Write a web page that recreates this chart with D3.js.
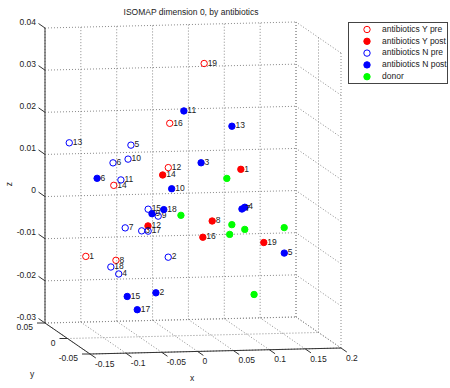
<!DOCTYPE html>
<html>
<head>
<meta charset="utf-8">
<script src="https://cdn.jsdelivr.net/npm/d3@7"></script>
<style>
body { margin: 0; background: #fff; }
svg text { font-family: "Liberation Sans", Arial, Helvetica, sans-serif; font-size: 8.5px; fill: #222; }
</style>
</head>
<body>
<div id="chart"></div>
<script>
// series: [subject id, x, y, z]
const yPre = [[19, 0.028, -0.02, 0.036], [16, -0.020, -0.02, 0.022], [12, -0.022, -0.02, 0.0115],
    [14, -0.098, -0.02, 0.0076], [1, -0.137, -0.02, -0.0091], [8, -0.095, -0.02, -0.0102]];
const yPost = [[1, 0.098, 0.01, 0.0084], [14, -0.011, 0.01, 0.0075], [8, 0.058, 0.01, -0.0037],
    [16, 0.045, 0.01, -0.0075], [19, 0.130, 0.01, -0.0091], [12, -0.0315, 0.01, -0.0045]];
const nPre = [[13, -0.135, 0.02, 0.0149], [5, -0.049, 0.02, 0.014], [10, -0.053, 0.02, 0.0107],
    [6, -0.074, 0.02, 0.0099], [11, -0.063, 0.02, 0.0058], [15, -0.025, 0.02, -0.0013],
    [9, -0.011, 0.02, -0.003], [7, -0.057, 0.02, -0.0056], [3, -0.034, 0.02, -0.0064],
    [17, -0.025, 0.02, -0.0065], [2, 0.003, 0.02, -0.0128], [18, -0.077, 0.02, -0.0148],
    [4, -0.066, 0.02, -0.0165]];
const nPost = [[11, 0.006, -0.01, 0.0241], [13, 0.073, -0.01, 0.0202], [3, 0.030, -0.01, 0.0117],
    [6, -0.115, -0.01, 0.0086], [10, -0.011, -0.01, 0.0057], [18, -0.022, -0.01, 0.0008],
    [9, -0.0385, -0.01, -0.0001], [7, 0.087, -0.01, 0.0005], [4, 0.091, -0.01, 0.0009],
    [5, 0.146, -0.01, -0.0102], [2, -0.033, -0.01, -0.0189], [15, -0.073, -0.01, -0.0196],
    [17, -0.059, -0.01, -0.0228]];
const donor = [[null, 0.091, 0.03, 0.0048], [null, 0.027, 0.03, -0.0037], [null, 0.098, 0.03, -0.0062],
    [null, 0.116, 0.03, -0.0074], [null, 0.095, 0.03, -0.0085], [null, 0.171, 0.03, -0.0072],
    [null, 0.129, 0.03, -0.0229]];

const seriesNames = ['antibiotics Y pre', 'antibiotics Y post', 'antibiotics N pre', 'antibiotics N post', 'donor'];
const seriesColors = ['#ff0000', '#ff0000', '#0000ff', '#0000ff', '#00ff00'];
const seriesFilled = [false, true, false, true, true];
const seriesData = [yPre, yPost, nPre, nPost, donor];

const xTicks = [-0.15, -0.1, -0.05, 0, 0.05, 0.1, 0.15, 0.2];
const yTicks = [-0.05, 0, 0.05];
const zTicks = [-0.03, -0.02, -0.01, 0, 0.01, 0.02, 0.03, 0.04];

const width = 450, height = 388;

const svg = d3.select('#chart').append('svg')
    .attr('width', width)
    .attr('height', height);

// unit cube scales, then a fixed view projection
const u = d3.scaleLinear().domain([-0.15, 0.2]).range([0, 1]);
const v = d3.scaleLinear().domain([-0.05, 0.05]).range([0, 1]);
const w = d3.scaleLinear().domain([-0.03, 0.04]).range([0, 1]);
const origin = [90, 354], eu = [251, -6], ev = [-45, -31], ew = [0, -295];

function proj(x, y, z) {
    const a = u(x), b = v(y), c = w(z);
    return [origin[0] + a * eu[0] + b * ev[0] + c * ew[0],
            origin[1] + a * eu[1] + b * ev[1] + c * ew[1]];
}

const [x0, x1] = u.domain(), [y0, y1] = v.domain(), [z0, z1] = w.domain();

const grid = svg.append('g');
function gridLine(p, q) {
    grid.append('line')
        .attr('x1', p[0]).attr('y1', p[1]).attr('x2', q[0]).attr('y2', q[1])
        .attr('stroke', '#8a8a8a').attr('stroke-width', 1)
        .attr('stroke-dasharray', '1,2');
}
// back wall (y max)
xTicks.forEach(x => gridLine(proj(x, y1, z0), proj(x, y1, z1)));
zTicks.forEach(z => gridLine(proj(x0, y1, z), proj(x1, y1, z)));
// side wall (x max)
yTicks.forEach(y => gridLine(proj(x1, y, z0), proj(x1, y, z1)));
zTicks.forEach(z => gridLine(proj(x1, y0, z), proj(x1, y1, z)));
// floor (z min)
xTicks.forEach(x => gridLine(proj(x, y0, z0), proj(x, y1, z0)));
yTicks.forEach(y => gridLine(proj(x0, y, z0), proj(x1, y, z0)));

const axes = svg.append('g').attr('stroke', '#333').attr('stroke-width', 1);
function axisLine(p, q) {
    axes.append('line')
        .attr('x1', p[0]).attr('y1', p[1]).attr('x2', q[0]).attr('y2', q[1]);
}
axisLine(proj(x0, y1, z0), proj(x0, y1, z1));
axisLine(proj(x0, y0, z0), proj(x1, y0, z0));
axisLine(proj(x0, y0, z0), proj(x0, y1, z0));

const fmt = d => String(+d.toFixed(2));

xTicks.forEach(x => {
    const p = proj(x, y0, z0);
    axisLine(p, [p[0] + 5.8, p[1] + 4]);
    svg.append('text').attr('x', p[0] + 5).attr('y', p[1] + 10.5)
        .attr('dominant-baseline', 'middle').text(fmt(x));
});
yTicks.forEach(y => {
    const p = proj(x0, y, z0);
    axisLine(p, [p[0] - 8, p[1]]);
    svg.append('text').attr('x', p[0] - 12).attr('y', p[1] + 5)
        .attr('text-anchor', 'end').attr('dominant-baseline', 'middle').text(fmt(y));
});
zTicks.forEach(z => {
    const p = proj(x0, y1, z);
    axisLine(p, [p[0] - 6.5, p[1] - 4.5]);
    svg.append('text').attr('x', p[0] - 9).attr('y', p[1] - 5.5)
        .attr('text-anchor', 'end').attr('dominant-baseline', 'middle').text(fmt(z));
});

svg.append('text').attr('x', 192).attr('y', 379).attr('text-anchor', 'middle')
    .attr('dominant-baseline', 'middle').text('x');
svg.append('text').attr('x', 32).attr('y', 375).attr('text-anchor', 'middle')
    .attr('dominant-baseline', 'middle').text('y');
svg.append('text').attr('transform', 'translate(10,184) rotate(-90)').attr('text-anchor', 'middle')
    .attr('dominant-baseline', 'middle').text('z');

svg.append('text').attr('x', 191).attr('y', 13).attr('text-anchor', 'middle')
    .attr('dominant-baseline', 'middle').text('ISOMAP dimension 0, by antibiotics');

// points and their subject labels
seriesData.forEach((data, i) => {
    const g = svg.append('g');
    g.selectAll('circle')
        .data(data)
        .enter().append('circle')
        .attr('cx', d => proj(d[1], d[2], d[3])[0])
        .attr('cy', d => proj(d[1], d[2], d[3])[1])
        .attr('r', 3.2)
        .attr('fill', seriesFilled[i] ? seriesColors[i] : 'none')
        .attr('stroke', seriesColors[i])
        .attr('stroke-width', 1);
    g.selectAll('text')
        .data(data.filter(d => d[0] !== null))
        .enter().append('text')
        .attr('x', d => proj(d[1], d[2], d[3])[0] + 3.5)
        .attr('y', d => proj(d[1], d[2], d[3])[1])
        .attr('dominant-baseline', 'middle')
        .text(d => d[0]);
});

// legend
const legend = svg.append('g');
legend.append('rect')
    .attr('x', 348.5).attr('y', 22.5).attr('width', 99).attr('height', 61)
    .attr('fill', '#fff').attr('stroke', '#444').attr('stroke-width', 1);
seriesNames.forEach((name, i) => {
    const ly = 29.5 + i * 11.8;
    legend.append('circle')
        .attr('cx', 367).attr('cy', ly).attr('r', 3.2)
        .attr('fill', seriesFilled[i] ? seriesColors[i] : 'none')
        .attr('stroke', seriesColors[i]);
    legend.append('text').attr('x', 382).attr('y', ly)
        .attr('dominant-baseline', 'middle').text(name);
});
</script>
</body>
</html>
